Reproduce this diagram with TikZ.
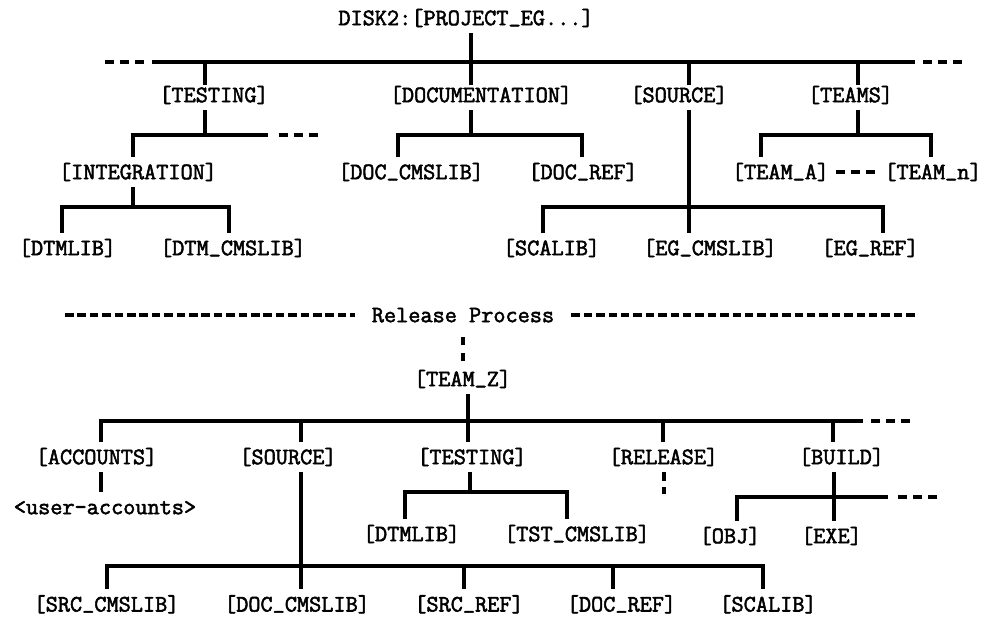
\documentclass[tikz,border=0pt]{standalone}
\usepackage{fontspec}
\newfontfamily\treefont{Latin Modern Mono}[FakeBold=2.2]
% underscore set on the baseline, as on a line printer
\newcommand\usc{\raisebox{3.5pt}{\_}}
\begin{document}
\begin{tikzpicture}[x=1pt,y=-1pt,
  lbl/.style={font=\treefont\fontsize{23.6}{25}\selectfont,
    inner sep=0pt, text height=22.2pt, text depth=7.8pt},
  lastrow/.style={lbl, anchor=base, text depth=5.5pt},
  tree/.style={line width=3.5pt},
  gapdash/.style={line width=3.5pt, dash pattern=on 9pt off 6pt},
  reldash/.style={line width=3.5pt, dash pattern=on 8.5pt off 3.9pt},
  vdots/.style={line width=3.5pt, dash pattern=on 8pt off 8pt}]
\useasboundingbox (0,0) rectangle (986,618);

% ---------- project tree ----------
\node[lbl] (root) at (466,18) {DISK2:[PROJECT\usc EG...]};

\node[lbl] (tTesting) at (214,95) {[TESTING]};
\node[lbl] (tDoc)     at (481,95) {[DOCUMENTATION]};
\node[lbl] (tSource)  at (679,95) {[SOURCE]};
\node[lbl] (tTeams)   at (850.5,95) {[TEAMS]};

\node[lbl] (tInteg)   at (138,172) {[INTEGRATION]};
\node[lbl] (tDocCms)  at (411,172) {[DOC\usc CMSLIB]};
\node[lbl] (tDocRef)  at (583,172) {[DOC\usc REF]};
\node[lbl] (tTeamA)   at (780.5,172) {[TEAM\usc A]};
\node[lbl] (tTeamN)   at (933,172) {[TEAM\usc n]};

\node[lbl] (tDtmlib)  at (67.5,248) {[DTMLIB]};
\node[lbl] (tDtmCms)  at (233,248) {[DTM\usc CMSLIB]};
\node[lbl] (tScalib)  at (551.5,248) {[SCALIB]};
\node[lbl] (tEgCms)   at (710,248) {[EG\usc CMSLIB]};
\node[lbl] (tEgRef)   at (870,248) {[EG\usc REF]};

% top bus
\coordinate (busL) at (152,62);  \coordinate (busR) at (915,62);
\coordinate (dL1) at (105,62);   \coordinate (dL2) at (144,62);
\coordinate (dR1) at (923,62);   \coordinate (dR2) at (962,62);
\coordinate (jRoot) at (471,62);
\coordinate (jTest) at (205,62); \coordinate (jSrc) at (689,62);
\coordinate (jTeams) at (858,62);
\draw[tree] (busL) -- (busR);
\draw[gapdash] (dL1) -- (dL2);
\draw[gapdash] (dR1) -- (dR2);
\draw[tree] (root.south -| jRoot) -- (jRoot);
\draw[tree, shorten >=-5pt] (jTest) -- (tTesting.north -| jTest);
\draw[tree, shorten >=-5pt] (jRoot) -- (tDoc.north -| jRoot);
\draw[tree, shorten >=-5pt] (jSrc) -- (tSource.north -| jSrc);
\draw[tree, shorten >=-5pt] (jTeams) -- (tTeams.north -| jTeams);

% TESTING branch
\coordinate (kTest) at (205,135);
\coordinate (kTestL) at (133,135); \coordinate (kTestR) at (268,135);
\coordinate (kTestD1) at (279,135); \coordinate (kTestD2) at (318,135);
\draw[tree] (tTesting.south -| kTest) -- (kTest);
\draw[tree] (tInteg.north -| kTestL) |- (kTestR);
\draw[gapdash] (kTestD1) -- (kTestD2);

% INTEGRATION branch
\coordinate (kInt) at (133,207);
\coordinate (kIntL) at (62,207); \coordinate (kIntR) at (229,207);
\draw[tree] (tInteg.south -| kInt) -- (kInt);
\draw[tree] (tDtmlib.north -| kIntL) |- (kIntR) -- (tDtmCms.north -| kIntR);

% DOCUMENTATION branch
\coordinate (kDoc) at (471,135);
\coordinate (kDocL) at (398,135); \coordinate (kDocR) at (582,135);
\draw[tree] (tDoc.south -| kDoc) -- (kDoc);
\draw[tree] (tDocCms.north -| kDocL) |- (kDocR) -- (tDocRef.north -| kDocR);

% SOURCE branch
\coordinate (kSrc) at (689,207);
\coordinate (kSrcL) at (543,207); \coordinate (kSrcR) at (883,207);
\draw[tree] (tSource.south -| kSrc) -- (tEgCms.north -| kSrc);
\draw[tree] (tScalib.north -| kSrcL) |- (kSrcR) -- (tEgRef.north -| kSrcR);

% TEAMS branch
\coordinate (kTeam) at (858,135);
\coordinate (kTeamL) at (761,135); \coordinate (kTeamR) at (931,135);
\draw[tree] (tTeams.south -| kTeam) -- (kTeam);
\draw[tree] (tTeamA.north -| kTeamL) |- (kTeamR) -- (tTeamN.north -| kTeamR);
\draw[gapdash, shorten <=7pt, shorten >=6.5pt] (tTeamA.east) -- (tTeamN.west);

% ---------- release process ----------
\node[lbl] (rel) at (463,315) {Release Process};
\coordinate (relL) at (65,315); \coordinate (relR) at (915,315);
\draw[reldash, shorten >=17pt] (relL) -- (rel.west);
\draw[reldash, shorten <=17pt] (rel.east) -- (relR);

\node[lbl] (tZ) at (462.5,379) {[TEAM\usc Z]};
\coordinate (vZ) at (463,337);
\draw[vdots] (vZ) -- (tZ.north -| vZ);

\node[lbl] (bAcc)   at (96.5,457) {[ACCOUNTS]};
\node[lbl] (bSrc)   at (288,457) {[SOURCE]};
\node[lbl] (bTest)  at (472,457) {[TESTING]};
\node[lbl] (bRel)   at (663.5,457) {[RELEASE]};
\node[lbl] (bBuild) at (841.5,457) {[BUILD]};

\node[lbl] (uAcc)   at (105,507) {<user-accounts>};
\node[lbl] (bDtm)   at (411.5,534) {[DTMLIB]};
\node[lbl] (bTst)   at (577,534) {[TST\usc CMSLIB]};
\node[lbl] (bObj)   at (730,536) {[OBJ]};
\node[lbl] (bExe)   at (831.5,536) {[EXE]};

\node[lastrow] (bSrcCms) at (106.5,611.5) {[SRC\usc CMSLIB]};
\node[lastrow] (bDocCms) at (297,611.5) {[DOC\usc CMSLIB]};
\node[lastrow] (bSrcRef) at (469,611.5) {[SRC\usc REF]};
\node[lastrow] (bDocRef) at (621.5,611.5) {[DOC\usc REF]};
\node[lastrow] (bScalib) at (768,611.5) {[SCALIB]};

% TEAM_Z bus
\coordinate (zJ) at (468,421);
\coordinate (zL) at (101,421); \coordinate (zR) at (863,421);
\coordinate (zD1) at (871,421); \coordinate (zD2) at (910,421);
\coordinate (zSrc) at (301,421); \coordinate (zRel) at (663,421);
\coordinate (zBuild) at (833,421);
\draw[tree] (tZ.south -| zJ) -- (bTest.north -| zJ);
\draw[tree] (bAcc.north -| zL) |- (zR);
\draw[gapdash] (zD1) -- (zD2);
\draw[tree] (zSrc) -- (bSrc.north -| zSrc);
\draw[tree] (zRel) -- (bRel.north -| zRel);
\draw[tree] (zBuild) -- (bBuild.north -| zBuild);

% ACCOUNTS
\coordinate (aJ) at (101,470);
\draw[tree] (bAcc.south -| aJ) -- (uAcc.north -| aJ);

% lower SOURCE
\coordinate (sJ) at (301,566);
\coordinate (sL) at (107,566); \coordinate (sR) at (763,566);
\coordinate (sM1) at (464,566); \coordinate (sM2) at (613,566);
\draw[tree] (bSrc.south -| sJ) -- (bDocCms.north -| sJ);
\draw[tree] (bSrcCms.north -| sL) |- (sR) -- (bScalib.north -| sR);
\draw[tree] (sM1) -- (bSrcRef.north -| sM1);
\draw[tree] (sM2) -- (bDocRef.north -| sM2);

% lower TESTING
\coordinate (eJ) at (470,492);
\coordinate (eL) at (405,492); \coordinate (eR) at (567,492);
\draw[tree] (bTest.south -| eJ) -- (eJ);
\draw[tree] (bDtm.north -| eL) |- (eR) -- (bTst.north -| eR);

% RELEASE
\coordinate (rEnd) at (664,494);
\draw[gapdash] (bRel.south -| rEnd) -- (rEnd);

% BUILD
\coordinate (uJ) at (834,497);
\coordinate (uL) at (737,497); \coordinate (uR) at (888,497);
\coordinate (uD1) at (898,497); \coordinate (uD2) at (937,497);
\draw[tree] (bBuild.south -| uJ) -- (bExe.north -| uJ);
\draw[tree] (bObj.north -| uL) |- (uR);
\draw[gapdash] (uD1) -- (uD2);
\end{tikzpicture}
\end{document}
